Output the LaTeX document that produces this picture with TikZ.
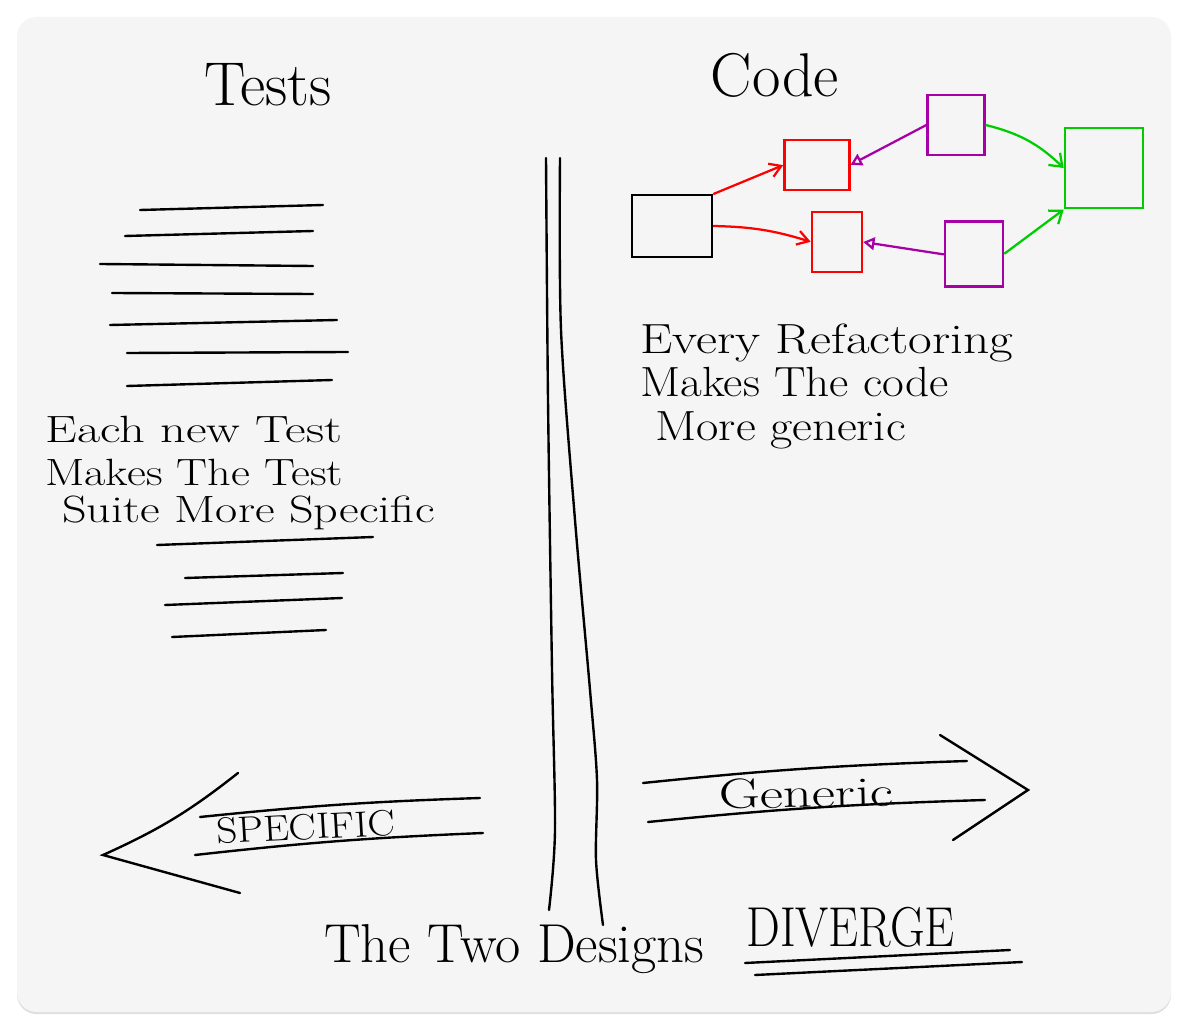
\documentclass[tikz,border=0pt]{standalone}
\usepackage{tikz}
\usetikzlibrary{arrows.meta,shadows,positioning,calc}

\begin{document}
\begin{tikzpicture}[x=0.025cm, y=-0.025cm,
  pen/.style={line width=1.7pt, line cap=round, black},
  box/.style={draw, line width=1.7pt, rectangle, inner sep=0pt},
  hand/.style={font=\fontsize{#1}{#1}\selectfont, inner sep=0pt},
  redarr/.style={line width=1.6pt, red, -{Straight Barb[length=8pt,width=10pt]}},
  purarr/.style={line width=1.6pt, violet!70!magenta, -{Triangle[open,length=8pt,width=9pt]}},
  grnarr/.style={line width=1.6pt, green!80!black, -{Straight Barb[length=8pt,width=12pt]}}
]
\useasboundingbox (0,0) rectangle (1188,1029);
\fill[white] (0,0) rectangle (1188,1029);

% Paper card
\fill[black!4, rounded corners=14pt, drop shadow={opacity=0.25,shadow xshift=0pt,shadow yshift=-1.5pt}]
  (17,17) rectangle (1171,1012);

% Headings
\node[hand=44] (tests) at (268,85) {Tests};
\node[hand=44] (code) at (775,75) {Code};

% Test strokes
\foreach \xa/\ya/\xb/\yb in {140/210/323/205, 125/236/313/231, 100/264/313/266,
  112/293/313/294, 110/325/337/320, 127/353/348/352, 127/386/332/380,
  157/545/373/537, 185/578/343/573, 165/605/342/598, 172/637/326/630}
  \draw[pen] (\xa,\ya) -- (\xb,\yb);

% Left caption
\node[hand=27, xscale=1.33, anchor=base west] (each) at (45,443) {Each new Test};
\node[hand=27, xscale=1.22, anchor=base west] (makes) at (45,485) {Makes The Test};
\node[hand=27, xscale=1.27, anchor=base west] (suite) at (62,522) {Suite More Specific};

% Divider
\draw[pen] plot[smooth] coordinates {(546,158) (548,400) (552,670) (555,830) (549,910)};
\draw[pen] plot[smooth] coordinates {(560,158) (561,330) (575,520) (590,690) (597,780) (596,860) (603,925)};

% Code graph
\node[box, minimum width=2cm, minimum height=1.55cm] (blk) at (672,226) {};
\node[box, red, minimum width=1.62cm, minimum height=1.25cm] (red1) at (817,165) {};
\node[box, red, minimum width=1.25cm, minimum height=1.5cm] (red2) at (837,242) {};
\node[box, violet!70!magenta, minimum width=1.42cm, minimum height=1.5cm] (pur1) at (956,125) {};
\node[box, violet!70!magenta, minimum width=1.45cm, minimum height=1.62cm] (pur2) at (974,254) {};
\node[box, green!80!black, minimum width=1.95cm, minimum height=2cm] (grn) at (1104,168) {};

\draw[redarr] (blk.north east) ++(0,0.3) coordinate (b1) -- ($(red1.west)+(-0.2,0.15)$);
\draw[redarr] (blk.east) to[bend left=8] ($(red2.west)+(-0.1,-0.2)$);
\draw[purarr] (pur1.west) -- ($(red1.east)+(0,-0.2)$);
\draw[purarr] ($(pur2.west)+(0,0.4)$) -- (red2.east);
\draw[grnarr] (pur1.east) to[bend left=15] ($(grn.west)+(-0.15,0)$);
\draw[grnarr] ($(pur2.east)+(0,-0.15)$) -- ($(grn.south west)+(-0.1,0.35)$);

% Right caption
\node[hand=30, xscale=1.22, anchor=base west] (every) at (640,354) {Every Refactoring};
\node[hand=30, xscale=1.12, anchor=base west] (makescode) at (640,397) {Makes The code};
\node[hand=30, xscale=1.15, anchor=base west] (moregen) at (655,441) {More generic};

% Specific arrow
\draw[pen] (238,773) to[bend left=7] (103,855) -- (240,893);
\draw[pen] (200,817) to[bend left=2] (480,798);
\draw[pen] (195,855) to[bend left=2] (483,833);
\node[hand=26, xscale=1.12, rotate=3] (specific) at (306,827) {SPECIFIC};

% Generic arrow
\draw[pen] (643,783) to[bend left=2] (967,761);
\draw[pen] (648,822) to[bend left=2] (985,800);
\draw[pen] (940,735) -- (1028,790) -- (953,840);
\node[hand=30, xscale=1.35, rotate=1] (generic) at (806,793) {Generic};

% Bottom line
\node[hand=39, anchor=base west] (twodesigns) at (324,962) {The Two Designs};
\node[hand=40, xscale=0.85, anchor=base west] (diverge) at (746,946) {DIVERGE};
\draw[pen] (745,963) -- (1010,950);
\draw[pen] (755,975) -- (1022,962);

\end{tikzpicture}
\end{document}
